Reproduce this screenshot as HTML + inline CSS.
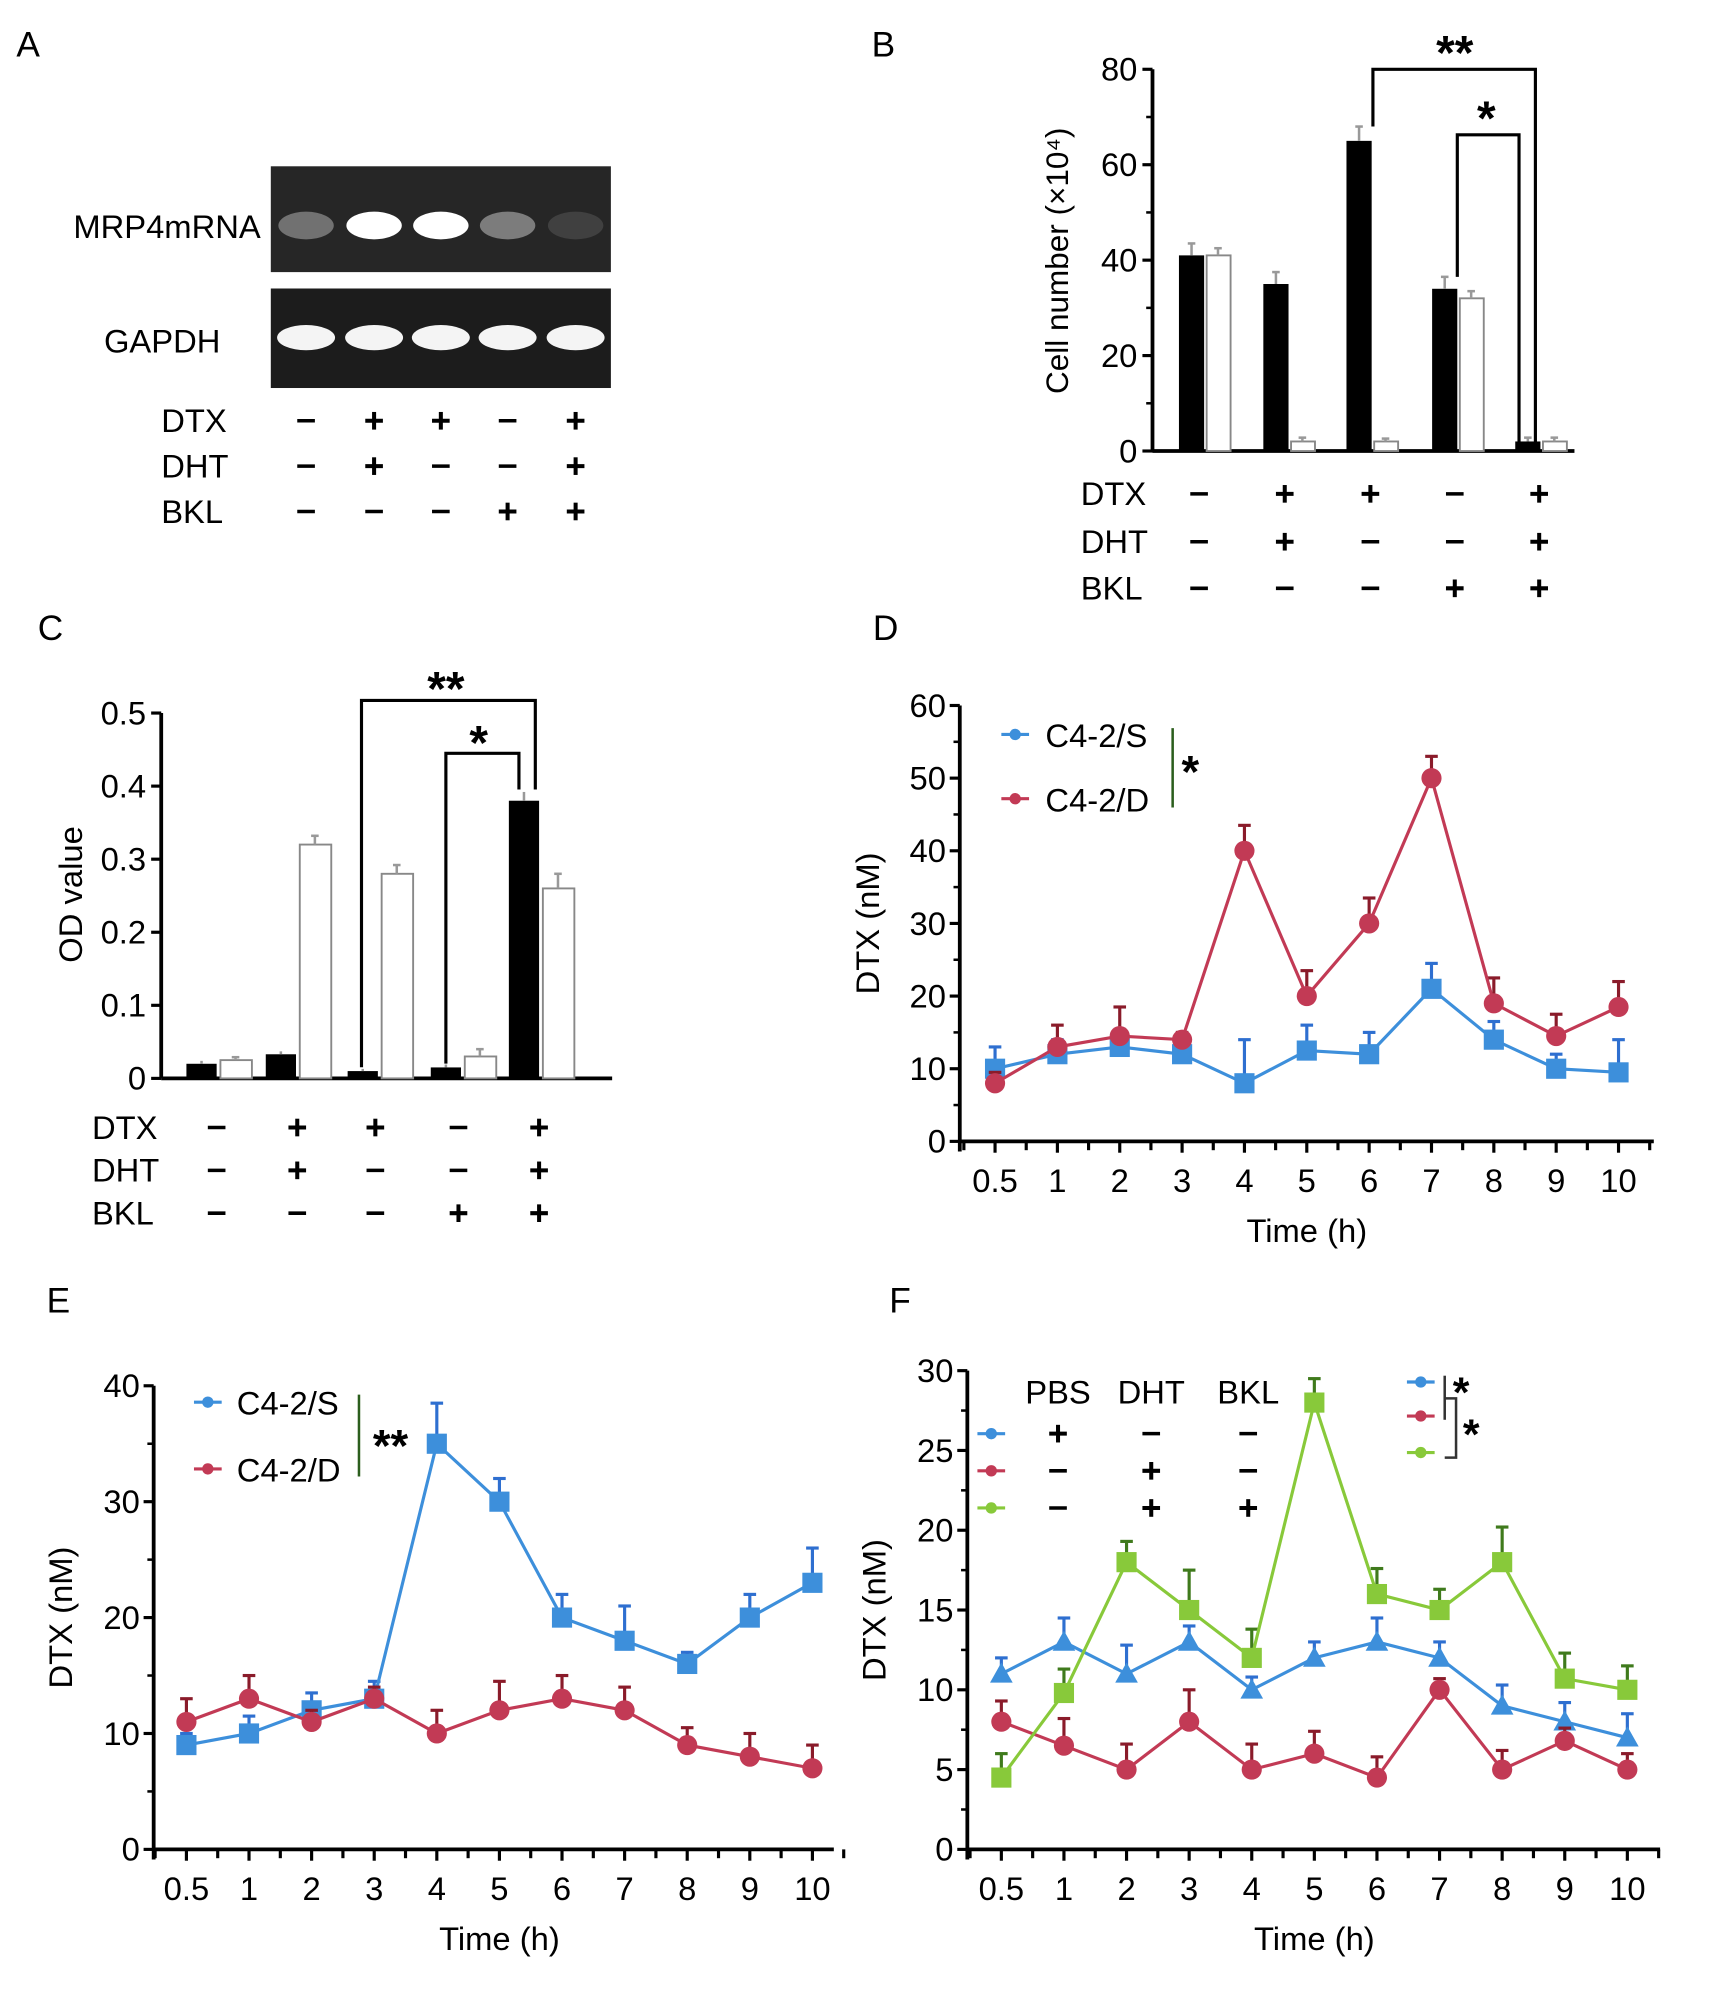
<!DOCTYPE html>
<html><head><meta charset="utf-8"><style>
html,body{margin:0;padding:0;background:#fff}
svg{display:block;font-family:"Liberation Sans",Arial,sans-serif}
</style></head><body>
<svg id="fig" width="1713" height="1993" viewBox="0 0 1360 1582" preserveAspectRatio="none" xmlns="http://www.w3.org/2000/svg">
<g id="root"></g>
</svg>
<script>
// ---------- DATA ----------
const signDTX=['-','+','+','-','+'];
const signDHT=['-','+','-','-','+'];
const signBKL=['-','-','-','+','+'];
const gelMRP4=[0.35,1,1,0.4,0.12];
const gelGAPDH=[1,1,1,1,1];
const bTicks=[0,20,40,60,80];
const bBlack=[41,35,65,34,2];
const bWhite=[41,2,2,32,2];
const bBlackErr=[2.5,2.5,3,2.5,0.8];
const bWhiteErr=[1.5,0.8,0.6,1.5,0.8];
const cTicks=[0,0.1,0.2,0.3,0.4,0.5];
const cTickLabels=['0','0.1','0.2','0.3','0.4','0.5'];
const cBlack=[0.02,0.033,0.01,0.015,0.38];
const cWhite=[0.025,0.32,0.28,0.03,0.26];
const cBlackErr=[0.004,0.004,0.003,0.004,0.012];
const cWhiteErr=[0.004,0.012,0.012,0.01,0.02];
const timeLabels=['0.5','1','2','3','4','5','6','7','8','9','10'];
const dTicks=[0,10,20,30,40,50,60];
const dS=[10,12,13,12,8,12.5,12,21,14,10,9.5];
const dSErr=[3,2,1.5,1.5,6,3.5,3,3.5,2.5,2,4.5];
const dD=[8,13,14.5,14,40,20,30,50,19,14.5,18.5];
const dDErr=[1.5,3,4,1,3.5,3.5,3.5,3,3.5,3,3.5];
const eTicks=[0,10,20,30,40];
const eS=[9,10,12,13,35,30,20,18,16,20,23];
const eSErr=[1,1.5,1.5,1.5,3.5,2,2,3,1,2,3];
const eD=[11,13,11,13,10,12,13,12,9,8,7];
const eDErr=[2,2,1,1,2,2.5,2,2,1.5,2,2];
const fTicks=[0,5,10,15,20,25,30];
const fPBS=[11,13,11,13,10,12,13,12,9,8,7];
const fPBSErr=[1,1.5,1.8,1,0.8,1,1.5,1,1.3,1.2,1.5];
const fDHT=[8,6.5,5,8,5,6,4.5,10,5,6.8,5];
const fDHTErr=[1.3,1.7,1.6,2,1.6,1.4,1.3,0.7,1.2,0.8,1];
const fBKL=[4.5,9.8,18,15,12,28,16,15,18,10.7,10];
const fBKLErr=[1.5,1.5,1.3,2.5,1.8,1.5,1.6,1.3,2.2,1.6,1.5];

// ---------- HELPERS ----------
const NS='http://www.w3.org/2000/svg';
const root=document.getElementById('root');
function el(tag,attrs,parent,txt){const e=document.createElementNS(NS,tag);for(const k in attrs)e.setAttribute(k,attrs[k]);if(txt!==undefined)e.textContent=txt;(parent||root).appendChild(e);return e;}
function grp(name){const g=el('g',{});


return g;}
function text(p,x,y,s,size,anchor,extra){const t=el('text',Object.assign({x:x,y:y,'font-size':size,'text-anchor':anchor||'start',fill:'#000'},extra||{}),p,s);return t;}
function sign(p,x,y,s){
  if(s==='+'){el('line',{x1:x-7,y1:y,x2:x+7,y2:y,stroke:'#000','stroke-width':3.2},p);el('line',{x1:x,y1:y-7,x2:x,y2:y+7,stroke:'#000','stroke-width':3.2},p);}
  else el('line',{x1:x-7,y1:y,x2:x+7,y2:y,stroke:'#000','stroke-width':2.8},p);
}
function signRows(p,labelX,ys,xs,size){
  const names=['DTX','DHT','BKL'],arrs=[signDTX,signDHT,signBKL];
  names.forEach((n,i)=>{text(p,labelX,ys[i]+9,n,size,'start');xs.forEach((x,j)=>sign(p,x,ys[i],arrs[i][j]));});
}
function panelLabel(x,y,s){const g=grp('panel-label-'+s.toLowerCase());text(g,x,y,s,28,'start');}

// ---------- PANEL A ----------
panelLabel(13,45,'A');
(function(){
  const g=grp('panel-a-gel');
  const lanes=[243,297,350,403,457];
  el('rect',{x:215,y:132,width:270,height:84,fill:'#262626'},g);
  el('rect',{x:215,y:229,width:270,height:79,fill:'#1c1c1c'},g);
  gelMRP4.forEach((v,i)=>{el('ellipse',{cx:lanes[i],cy:179,rx:22,ry:11,fill:'#fff',opacity:v},g);});
  gelGAPDH.forEach((v,i)=>{el('ellipse',{cx:lanes[i],cy:268,rx:23,ry:10,fill:'#f4f4f4',opacity:v},g);});
  text(g,207,189,'MRP4mRNA',26,'end');
  text(g,175,280,'GAPDH',26,'end');
  signRows(g,128,[334,370,406],lanes,26);
})();

// ---------- PANEL B ----------
panelLabel(692,45,'B');
(function(){
  const g=grp('panel-b-bar-chart');
  const X0=915,Y0=358,Y1=55,ymax=80;
  const y=v=>Y0-(Y0-Y1)*v/ymax;
  const centers=[957,1024,1090,1158,1224];
  el('line',{x1:X0,y1:Y1,x2:X0,y2:Y0,stroke:'#000','stroke-width':3},g);
  el('line',{x1:X0,y1:Y0,x2:1250,y2:Y0,stroke:'#000','stroke-width':3},g);
  bTicks.forEach(t=>{el('line',{x1:X0-8,y1:y(t),x2:X0,y2:y(t),stroke:'#000','stroke-width':2.5},g);text(g,X0-12,y(t)+9,String(t),26,'end');});
  [10,30,50,70].forEach(t=>el('line',{x1:X0-5,y1:y(t),x2:X0,y2:y(t),stroke:'#000','stroke-width':2},g));
  centers.forEach((c,i)=>{
    const b=el('rect',{x:c-21,y:y(bBlack[i]),width:20,height:Y0-y(bBlack[i]),fill:'#000'},g);
    
    
    el('line',{x1:c-11,y1:y(bBlack[i]),x2:c-11,y2:y(bBlack[i]+bBlackErr[i]),stroke:'#999','stroke-width':2},g);
    el('line',{x1:c-14,y1:y(bBlack[i]+bBlackErr[i]),x2:c-8,y2:y(bBlack[i]+bBlackErr[i]),stroke:'#999','stroke-width':2},g);
    const w=el('rect',{x:c+1,y:y(bWhite[i]),width:19,height:Y0-y(bWhite[i]),fill:'#fff',stroke:'#888','stroke-width':1.5},g);
    
    
    el('line',{x1:c+10,y1:y(bWhite[i]),x2:c+10,y2:y(bWhite[i]+bWhiteErr[i]),stroke:'#999','stroke-width':2},g);
    el('line',{x1:c+7,y1:y(bWhite[i]+bWhiteErr[i]),x2:c+13,y2:y(bWhite[i]+bWhiteErr[i]),stroke:'#999','stroke-width':2},g);
  });
  text(g,0,0,'Cell number (×10⁴)',25,'middle',{transform:'translate(848,207) rotate(-90)'});
  el('polyline',{points:`1090,${y(bBlack[2]+bBlackErr[2])} 1090,55 1219,55 1219,354`,fill:'none',stroke:'#000','stroke-width':2.5},g);
  el('polyline',{points:`1157,${y(bBlack[3]+bBlackErr[3])} 1157,107 1206,107 1206,352`,fill:'none',stroke:'#000','stroke-width':2.5},g);
  text(g,1155,55,'**',38,'middle',{'font-weight':'bold'});
  text(g,1180,107,'*',38,'middle',{'font-weight':'bold'});
  signRows(g,858,[392,430,467],[952,1020,1088,1155,1222],26);
})();

// ---------- PANEL C ----------
panelLabel(30,508,'C');
(function(){
  const g=grp('panel-c-bar-chart');
  const X0=128,Y0=856,Y1=566,ymax=0.5;
  const y=v=>Y0-(Y0-Y1)*v/ymax;
  const centers=[174,237,302,368,430];
  el('line',{x1:X0,y1:Y1,x2:X0,y2:Y0,stroke:'#000','stroke-width':3},g);
  el('line',{x1:X0,y1:Y0,x2:486,y2:Y0,stroke:'#000','stroke-width':3},g);
  cTicks.forEach((t,i)=>{el('line',{x1:X0-8,y1:y(t),x2:X0,y2:y(t),stroke:'#000','stroke-width':2.5},g);text(g,X0-12,y(t)+9,cTickLabels[i],26,'end');});
  centers.forEach((c,i)=>{
    const b=el('rect',{x:c-26,y:y(cBlack[i]),width:24,height:Y0-y(cBlack[i]),fill:'#000'},g);
    
    
    el('line',{x1:c-14,y1:y(cBlack[i]),x2:c-14,y2:y(cBlack[i]+cBlackErr[i]),stroke:'#999','stroke-width':2},g);
    const w=el('rect',{x:c+1,y:y(cWhite[i]),width:25,height:Y0-y(cWhite[i]),fill:'#fff',stroke:'#888','stroke-width':1.5},g);
    
    
    el('line',{x1:c+13,y1:y(cWhite[i]),x2:c+13,y2:y(cWhite[i]+cWhiteErr[i]),stroke:'#999','stroke-width':2},g);
    el('line',{x1:c+10,y1:y(cWhite[i]+cWhiteErr[i]),x2:c+16,y2:y(cWhite[i]+cWhiteErr[i]),stroke:'#999','stroke-width':2},g);
  });
  text(g,0,0,'OD value',26,'middle',{transform:'translate(65,710) rotate(-90)'});
  el('polyline',{points:`287,${y(cBlack[2])-3} 287,556 425,556 425,${y(cBlack[4]+cBlackErr[4])-2}`,fill:'none',stroke:'#000','stroke-width':2.5},g);
  el('polyline',{points:`354,${y(cBlack[3])-3} 354,598 412,598 412,${y(cBlack[4]+cBlackErr[4])-2}`,fill:'none',stroke:'#000','stroke-width':2.5},g);
  text(g,354,560,'**',38,'middle',{'font-weight':'bold'});
  text(g,380,603,'*',38,'middle',{'font-weight':'bold'});
  signRows(g,73,[895,929,963],[172,236,298,364,428],26);
})();

// ---------- LINE CHART HELPER ----------
const BLUE='#3d8fdb',RED='#c23a55',GREEN='#88c93a';
function lineChart(name,o){
  const g=grp(name);
  const y=v=>o.Y0-(o.Y0-o.Y1)*v/o.ymax;
  const x=i=>o.xs0+i*o.dx;
  el('line',{x1:o.X0,y1:o.Y1,x2:o.X0,y2:o.Y0+8,stroke:'#000','stroke-width':3},g);
  el('line',{x1:o.X0,y1:o.Y0,x2:o.Xend,y2:o.Y0,stroke:'#000','stroke-width':3},g);
  o.ticks.forEach(t=>{el('line',{x1:o.X0-8,y1:y(t),x2:o.X0,y2:y(t),stroke:'#000','stroke-width':2.5},g);text(g,o.X0-11,y(t)+9,String(t),26,'end');});
  for(let k=0;k<o.ticks.length-1;k++){const m=(o.ticks[k]+o.ticks[k+1])/2;el('line',{x1:o.X0-5,y1:y(m),x2:o.X0,y2:y(m),stroke:'#000','stroke-width':2},g);}
  timeLabels.forEach((l,i)=>{el('line',{x1:x(i),y1:o.Y0,x2:x(i),y2:o.Y0+9,stroke:'#000','stroke-width':2.5},g);
    el('line',{x1:x(i)+o.dx/2,y1:o.Y0,x2:x(i)+o.dx/2,y2:o.Y0+7,stroke:'#000','stroke-width':2.5},g);
    text(g,x(i),o.Y0+40,l,26,'middle');});
  el('line',{x1:x(0)-o.dx/2,y1:o.Y0,x2:x(0)-o.dx/2,y2:o.Y0+7,stroke:'#000','stroke-width':2.5},g);
  text(g,(x(0)+x(10))/2,o.Y0+80,'Time (h)',26,'middle');
  text(g,0,0,'DTX (nM)',26,'middle',{transform:`translate(${o.ylabX},${(o.Y0+o.Y1)/2}) rotate(-90)`});
  o.series.forEach(s=>{
    const sg=el('g',{},g);
    
    
    const dark=s.dark;
    s.vals.forEach((v,i)=>{const top=y(v+s.err[i]);
      el('line',{x1:x(i),y1:y(v),x2:x(i),y2:top,stroke:dark,'stroke-width':2.5},sg);
      el('line',{x1:x(i)-5,y1:top,x2:x(i)+5,y2:top,stroke:dark,'stroke-width':2.5},sg);});
    el('polyline',{points:s.vals.map((v,i)=>x(i)+','+y(v)).join(' '),fill:'none',stroke:s.color,'stroke-width':2.5},sg);
    s.vals.forEach((v,i)=>marker(sg,s.shape,x(i),y(v),s.color,1));
  });
  return g;
}
function marker(p,shape,cx,cy,color,sc){
  if(shape==='sq')el('rect',{x:cx-8*sc,y:cy-8*sc,width:16*sc,height:16*sc,fill:color},p);
  else if(shape==='ci')el('circle',{cx:cx,cy:cy,r:8*sc,fill:color},p);
  else el('polygon',{points:`${cx},${cy-9*sc} ${cx+9*sc},${cy+7*sc} ${cx-9*sc},${cy+7*sc}`,fill:color},p);
}
function legMark(p,x,y,color){el('line',{x1:x-11,y1:y,x2:x+11,y2:y,stroke:color,'stroke-width':2.5},p);el('circle',{cx:x,cy:y,r:4.5,fill:color},p);}

// ---------- PANEL D ----------
panelLabel(693,508,'D');
(function(){
  const g=lineChart('panel-d-line-chart',{X0:762,Y0:906,Y1:560,ymax:60,Xend:1313,xs0:790,dx:49.5,ticks:dTicks,ylabX:698,
    series:[{name:'series-c4-2-s',vals:dS,err:dSErr,color:BLUE,dark:'#2e6fd0',shape:'sq'},{name:'series-c4-2-d',vals:dD,err:dDErr,color:RED,dark:'#8a1b2a',shape:'ci'}]});
  const lg=el('g',{},g);
  
  
  legMark(lg,806,583,BLUE);text(lg,830,593,'C4-2/S',26);
  legMark(lg,806,634,RED);text(lg,830,644,'C4-2/D',26);
  el('line',{x1:931,y1:578,x2:931,y2:641,stroke:'#2b5e1d','stroke-width':2},lg);
  text(lg,945,625,'*',36,'middle',{'font-weight':'bold'});
})();

// ---------- PANEL E ----------
panelLabel(37,1042,'E');
(function(){
  const g=lineChart('panel-e-line-chart',{X0:122,Y0:1468,Y1:1100,ymax:40,Xend:662,xs0:148,dx:49.7,ticks:eTicks,ylabX:57,
    series:[{name:'series-c4-2-s',vals:eS,err:eSErr,color:BLUE,dark:'#2e6fd0',shape:'sq'},{name:'series-c4-2-d',vals:eD,err:eDErr,color:RED,dark:'#8a1b2a',shape:'ci'}]});
  const lg=el('g',{},g);
  
  
  legMark(lg,165,1113,BLUE);text(lg,188,1123,'C4-2/S',26);
  legMark(lg,165,1166,RED);text(lg,188,1176,'C4-2/D',26);
  el('line',{x1:285,y1:1107,x2:285,y2:1172,stroke:'#2b5e1d','stroke-width':2},lg);
  text(lg,310,1160,'**',36,'middle',{'font-weight':'bold'});
})();

// ---------- PANEL F ----------
panelLabel(706,1042,'F');
(function(){
  const g=lineChart('panel-f-line-chart',{X0:768,Y0:1468,Y1:1088,ymax:30,Xend:1318,xs0:795,dx:49.7,ticks:fTicks,ylabX:703,
    series:[{name:'series-pbs',vals:fPBS,err:fPBSErr,color:BLUE,dark:'#2e6fd0',shape:'tr'},{name:'series-dht',vals:fDHT,err:fDHTErr,color:RED,dark:'#8a1b2a',shape:'ci'},{name:'series-dht-bkl',vals:fBKL,err:fBKLErr,color:GREEN,dark:'#3f7a1c',shape:'sq'}]});
  const lg=el('g',{},g);
  
  
  text(lg,840,1114,'PBS',26,'middle');text(lg,914,1114,'DHT',26,'middle');text(lg,991,1114,'BKL',26,'middle');
  const rows=[[BLUE,['+','-','-']],[RED,['-','+','-']],[GREEN,['-','+','+']]];
  rows.forEach((r,i)=>{const yy=1138+i*29.5;legMark(lg,787,yy,r[0]);[840,914,991].forEach((xx,j)=>sign(lg,xx,yy,r[1][j]));});
  legMark(lg,1128,1097,BLUE);legMark(lg,1128,1124,RED);legMark(lg,1128,1153,GREEN);
  el('line',{x1:1147,y1:1092,x2:1147,y2:1127,stroke:'#333','stroke-width':2},lg);
  el('polyline',{points:'1147,1110 1156,1110 1156,1157 1147,1157',fill:'none',stroke:'#333','stroke-width':2},lg);
  text(lg,1160,1117,'*',34,'middle',{'font-weight':'bold'});
  text(lg,1168,1150,'*',34,'middle',{'font-weight':'bold'});
})();
</script>
</body></html>
